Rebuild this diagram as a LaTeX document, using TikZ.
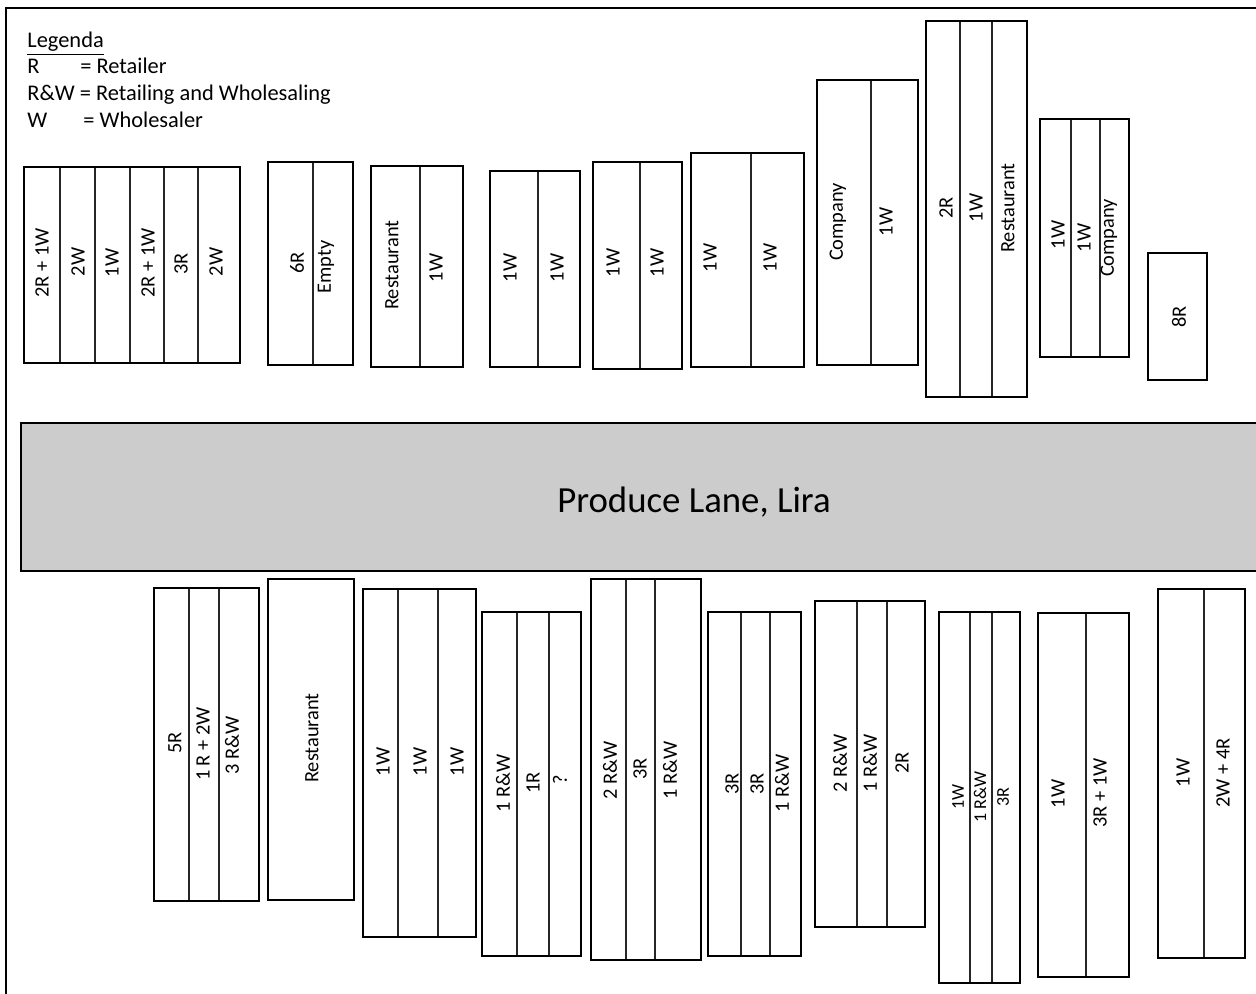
\documentclass[tikz,border=0pt]{standalone}
\usepackage{fontspec}
\setmainfont{Carlito}
\newcommand\stall[5]{%
  \foreach \d in {#5} {\draw[divline] (\d,#2) -- (\d,#4);}%
  \draw[stall] (#1,#2) rectangle (#3,#4);}
\begin{document}
\begin{tikzpicture}[x={(0.5pt,0pt)},y={(0pt,-0.5pt)},
  stall/.style={draw=black,line width=0.8pt},
  divline/.style={draw=black!85,line width=0.55pt},
  lbl/.style={rotate=90,inner sep=0pt,font=\fontsize{10.2}{12}\selectfont},
  slbl/.style={rotate=90,inner sep=0pt,font=\fontsize{9}{11}\selectfont},
  leg/.style={anchor=base west,inner sep=0pt,font=\fontsize{11.2}{13}\selectfont}]
\useasboundingbox (0,0) rectangle (1256,994);
% frame
\draw[line width=1.1pt] (6,994) -- (6,8) -- (1256,8);
% road
\fill[black!20] (21,423) rectangle (1256,571);
\draw[line width=0.8pt] (1256,423) -- (21,423) -- (21,571) -- (1256,571);
\node[anchor=base,inner sep=0pt,font=\fontsize{18.4}{22}\selectfont] (road) at (694,512) {Produce Lane, Lira};
% legend
\node[leg] (lg) at (27,48) {\underline{Legenda}};
\node[leg] (lr) at (27,74) {R};
\node[leg] (lrd) at (80,74) {= Retailer};
\node[leg] (lrw) at (27,101) {R\&W = Retailing and Wholesaling};
\node[leg] (lw) at (27,128) {W};
\node[leg] (lwd) at (83,128) {= Wholesaler};
% ---- top row ----
\stall{24}{167}{240}{363}{60,95,130,164,198}
\node[lbl] (a1) at (42,263) {2R + 1W};
\node[lbl] (a2) at (78,262) {2W};
\node[lbl] (a3) at (112,263) {1W};
\node[lbl] (a4) at (148,263) {2R + 1W};
\node[lbl] (a5) at (181,264) {3R};
\node[lbl] (a6) at (216,262) {2W};
\stall{268}{162}{353}{365}{313}
\node[lbl] (b1) at (297,263) {6R};
\node[lbl] (b2) at (326,267) {Empty};
\stall{371}{166}{463}{367}{420}
\node[lbl] (c1) at (392,265) {Restaurant};
\node[lbl] (c2) at (436,268) {1W};
\stall{490}{171}{580}{367}{538}
\node[lbl] (d1) at (510,268) {1W};
\node[lbl] (d2) at (557,268) {1W};
\stall{593}{162}{682}{369}{640}
\node[lbl] (e1) at (613,263) {1W};
\node[lbl] (e2) at (657,263) {1W};
\stall{691}{153}{804}{367}{751}
\node[lbl] (f1) at (710,258) {1W};
\node[lbl] (f2) at (770,258) {1W};
\stall{817}{80}{918}{365}{871}
\node[lbl] (g1) at (838,222) {Company};
\node[lbl] (g2) at (886,222) {1W};
\stall{926}{21}{1027}{397}{960,992}
\node[lbl] (h1) at (946,208) {2R};
\node[lbl] (h2) at (976,208) {1W};
\node[lbl] (h3) at (1008,208) {Restaurant};
\stall{1040}{119}{1129}{357}{1071,1100}
\node[lbl] (i1) at (1058,235) {1W};
\node[lbl] (i2) at (1084,238) {1W};
\node[lbl] (i3) at (1109,238) {Company};
\draw[stall] (1148,253) rectangle (1207,380);
\node[lbl] (j1) at (1179,317) {8R};
% ---- bottom row ----
\stall{154}{588}{259}{901}{189,219}
\node[lbl] (k1) at (175,743) {5R};
\node[lbl] (k2) at (203,744) {1 R + 2W};
\node[lbl] (k3) at (232,745) {3 R\&W};
\draw[stall] (268,579) rectangle (354,900);
\node[lbl] (l1) at (312,738) {Restaurant};
\stall{363}{589}{476}{937}{398,438}
\node[lbl] (m1) at (383,762) {1W};
\node[lbl] (m2) at (420,762) {1W};
\node[lbl] (m3) at (457,762) {1W};
\stall{482}{612}{581}{956}{517,549}
\node[lbl] (n1) at (503,783) {1 R\&W};
\node[lbl] (n2) at (533,783) {1R};
\node[lbl] (n3) at (560,780) {?};
\stall{591}{579}{701}{960}{626,655}
\node[lbl] (o1) at (610,770) {2 R\&W};
\node[lbl] (o2) at (640,769) {3R};
\node[lbl] (o3) at (670,770) {1 R\&W};
\stall{708}{612}{801}{956}{741,770}
\node[lbl] (p1) at (732,784) {3R};
\node[lbl] (p2) at (757,784) {3R};
\node[lbl] (p3) at (782,783) {1 R\&W};
\stall{815}{601}{925}{927}{857,887}
\node[lbl] (q1) at (840,763) {2 R\&W};
\node[lbl] (q2) at (870,763) {1 R\&W};
\node[lbl] (q3) at (902,763) {2R};
\stall{939}{612}{1020}{983}{970,992}
\node[slbl] (r1) at (958,797) {1W};
\node[slbl] (r2) at (980,797) {1 R\&W};
\node[slbl] (r3) at (1003,797) {3R};
\stall{1038}{613}{1129}{977}{1086}
\node[lbl] (s1) at (1058,794) {1W};
\node[lbl] (s2) at (1100,793) {3R + 1W};
\stall{1158}{589}{1245}{958}{1204}
\node[lbl] (t1) at (1183,773) {1W};
\node[lbl] (t2) at (1223,773) {2W + 4R};
\end{tikzpicture}
\end{document}
